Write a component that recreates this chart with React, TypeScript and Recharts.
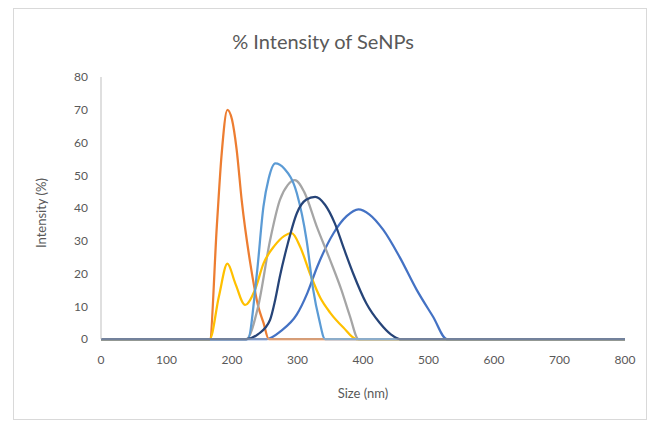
import { Line, LineChart, XAxis, YAxis } from "recharts";

// size (nm) / intensity (%) pairs
const blueSize = [0, 253, 275, 299, 315, 330, 355, 375, 393, 410, 431, 456, 482, 507, 528, 800];
const blueIntensity = [0, 0, 2.5, 7.5, 14, 22, 32.3, 37.5, 39.6, 38, 33.3, 25, 15, 6.8, 0, 0];

const orangeSize = [0, 166, 177, 184, 193, 200, 207, 215, 228, 240, 248, 256, 800];
const orangeIntensity = [0, 0, 35, 56, 70, 67, 58, 42, 23, 10, 5, 0, 0];

const graySize = [0, 222, 240, 258, 273, 285, 296, 310, 330, 350, 367, 380, 393, 800];
const grayIntensity = [0, 0, 10, 30, 42.4, 47, 48.5, 45, 34, 24, 15, 7, 0, 0];

const yellowSize = [0, 166, 180, 193, 205, 220, 235, 248, 265, 280, 291, 304, 319, 335, 350, 370, 390, 800];
const yellowIntensity = [0, 0, 13, 23, 17, 10.4, 15, 23, 28.5, 31.5, 32.3, 28.2, 20, 12.5, 8, 3.5, 0, 0];

const lightBlueSize = [0, 224, 238, 248, 256, 266, 280, 299, 314, 324, 333, 342, 800];
const lightBlueIntensity = [0, 0, 20, 40.4, 49, 53.6, 52, 44.5, 30, 15, 6, 0, 0];

const darkBlueSize = [0, 222, 240, 258, 266, 273, 285, 299, 313, 327, 342, 357, 371, 385, 405, 426, 442, 456, 800];
const darkBlueIntensity = [0, 0, 1.5, 5.8, 12, 19, 29, 38.4, 42.5, 43.4, 41, 35.3, 27.5, 20, 10.9, 4.8, 1.5, 0, 0];

const xTicks = [0, 100, 200, 300, 400, 500, 600, 700, 800];
const yTicks = [0, 10, 20, 30, 40, 50, 60, 70, 80];

const zip = (sizes: number[], values: number[]) => sizes.map((x, i) => ({ x, v: values[i] }));

const series = [
  { name: "s1", color: "#4472C4", data: zip(blueSize, blueIntensity) },
  { name: "s2", color: "#ED7D31", data: zip(orangeSize, orangeIntensity) },
  { name: "s3", color: "#A5A5A5", data: zip(graySize, grayIntensity) },
  { name: "s4", color: "#FFC000", data: zip(yellowSize, yellowIntensity) },
  { name: "s5", color: "#5B9BD5", data: zip(lightBlueSize, lightBlueIntensity) },
  { name: "s6", color: "#264478", data: zip(darkBlueSize, darkBlueIntensity) },
];

const font = "Lato, 'Open Sans', sans-serif";
const tickStyle = { fill: "#595959", fontSize: 12, fontFamily: font };

export default function App() {
  return (
    <div style={{ position: "absolute", left: 0, top: 0, width: 652, height: 425, background: "#fff" }}>
      <div
        style={{
          position: "absolute",
          left: 13,
          top: 8,
          width: 634,
          height: 412,
          border: "1px solid #D9D9D9",
          boxSizing: "border-box",
        }}
      />
      <div
        style={{
          position: "absolute",
          left: 0,
          width: 646,
          top: 29,
          textAlign: "center",
          fontFamily: font,
          fontSize: 20,
          color: "#595959",
        }}
      >
        % Intensity of SeNPs
      </div>
      <div style={{ position: "absolute", left: 0, top: 0 }}>
        <LineChart width={652} height={425} margin={{ top: 77, right: 27, bottom: 56, left: 41 }}>
          <XAxis
            dataKey="x"
            type="number"
            domain={[0, 800]}
            ticks={xTicks}
            allowDuplicatedCategory={false}
            tickLine={false}
            axisLine={{ stroke: "#BFBFBF" }}
            tick={tickStyle}
            tickMargin={10}
            height={30}
            label={{ value: "Size (nm)", position: "insideBottom", offset: -29, fill: "#595959", fontSize: 13, fontFamily: font }}
          />
          <YAxis
            type="number"
            domain={[0, 80]}
            ticks={yTicks}
            tickLine={false}
            axisLine={{ stroke: "#BFBFBF" }}
            tick={tickStyle}
            tickMargin={7}
            width={60}
            label={{ value: "Intensity (%)", angle: -90, position: "insideLeft", offset: 0, dy: 40, fill: "#595959", fontSize: 13, fontFamily: font }}
          />
          {series.map((s) => (
            <Line
              key={s.name}
              data={s.data}
              dataKey="v"
              name={s.name}
              type="monotone"
              stroke={s.color}
              strokeWidth={2.25}
              dot={false}
              activeDot={false}
              isAnimationActive={false}
            />
          ))}
        </LineChart>
      </div>
    </div>
  );
}
